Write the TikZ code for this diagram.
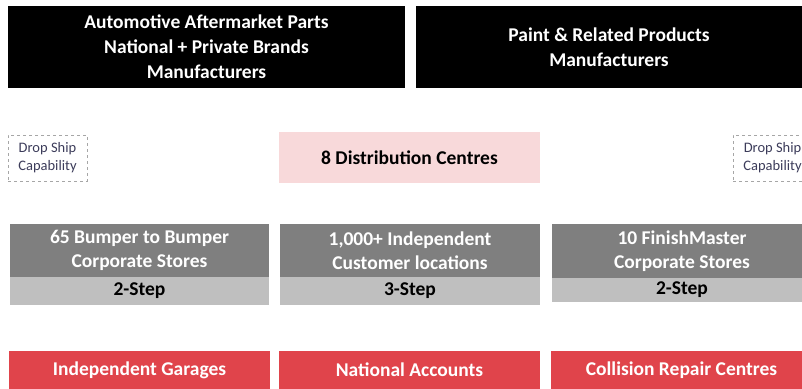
\documentclass[tikz,border=0pt]{standalone}
\usepackage{fontspec}
\setmainfont{Carlito}
\usetikzlibrary{positioning}

\definecolor{makerblack}{HTML}{000000}
\definecolor{dcpink}{HTML}{F8D9DA}
\definecolor{storegray}{HTML}{7F7F7F}
\definecolor{stepgray}{HTML}{BFBFBF}
\definecolor{custred}{HTML}{E0444B}
\definecolor{dropblue}{HTML}{3C3C5A}

\tikzset{
  maker/.style={fill=makerblack, text=white, inner sep=0pt, align=center,
    font=\bfseries\fontsize{19.5}{25}\selectfont},
  dcbox/.style={fill=dcpink, text=black, inner sep=0pt, align=center,
    font=\bfseries\fontsize{19.5}{24}\selectfont},
  dropship/.style={draw=gray!70, dashed, text=dropblue, inner sep=0pt, align=center,
    font=\fontsize{14.5}{18}\selectfont},
  storebox/.style={fill=storegray, text=white, inner sep=0pt, align=center,
    font=\bfseries\fontsize{19.5}{24}\selectfont},
  stepbox/.style={fill=stepgray, text=black, inner sep=0pt, align=center,
    font=\bfseries\fontsize{19.5}{24}\selectfont},
  custbox/.style={fill=custred, text=white, inner sep=0pt, align=center,
    font=\bfseries\fontsize{19.5}{24}\selectfont}
}

\begin{document}
\begin{tikzpicture}[x=1pt, y=-1pt]
  \useasboundingbox (0,0) rectangle (802,388);

  % manufacturers
  \node[maker, minimum width=397pt, minimum height=82pt] (autoparts) at (206.5,47)
    {Automotive Aftermarket Parts\\National + Private Brands\\Manufacturers};
  \node[maker, minimum width=386pt, minimum height=82pt] (paint) at (609,47)
    {Paint \& Related Products\\Manufacturers};

  % distribution
  \node[dropship, minimum width=79pt, minimum height=46pt] (dropleft) at (47.5,158)
    {Drop Ship\\Capability};
  \node[dcbox, minimum width=261pt, minimum height=51pt] (centres) at (409.5,157.5)
    {8 Distribution Centres};
  \node[dropship, minimum width=79pt, minimum height=46pt] (dropright) at (772.5,158)
    {Drop Ship\\Capability};

  % stores
  \node[storebox, minimum width=259pt, minimum height=53pt] (bumper) at (139.5,250.5)
    {65 Bumper to Bumper\\Corporate Stores};
  \node[stepbox, minimum width=259pt, minimum height=28pt] (bumperstep) at (139.5,291)
    {2-Step};
  \node[storebox, minimum width=260pt, minimum height=53pt] (independent) at (410,250.5)
    {1,000+ Independent\\Customer locations};
  \node[stepbox, minimum width=260pt, minimum height=28pt] (independentstep) at (410,291)
    {3-Step};
  \node[storebox, minimum width=260pt, minimum height=54pt] (finish) at (682,251)
    {10 FinishMaster\\Corporate Stores};
  \node[stepbox, minimum width=260pt, minimum height=24pt] (finishstep) at (682,290)
    {2-Step};

  % customers
  \node[custbox, minimum width=261pt, minimum height=38pt] (garages) at (139.5,370)
    {Independent Garages};
  \node[custbox, minimum width=261pt, minimum height=38pt] (accounts) at (409.5,370)
    {National Accounts};
  \node[custbox, minimum width=261pt, minimum height=38pt] (collision) at (681.5,370)
    {Collision Repair Centres};
\end{tikzpicture}
\end{document}
